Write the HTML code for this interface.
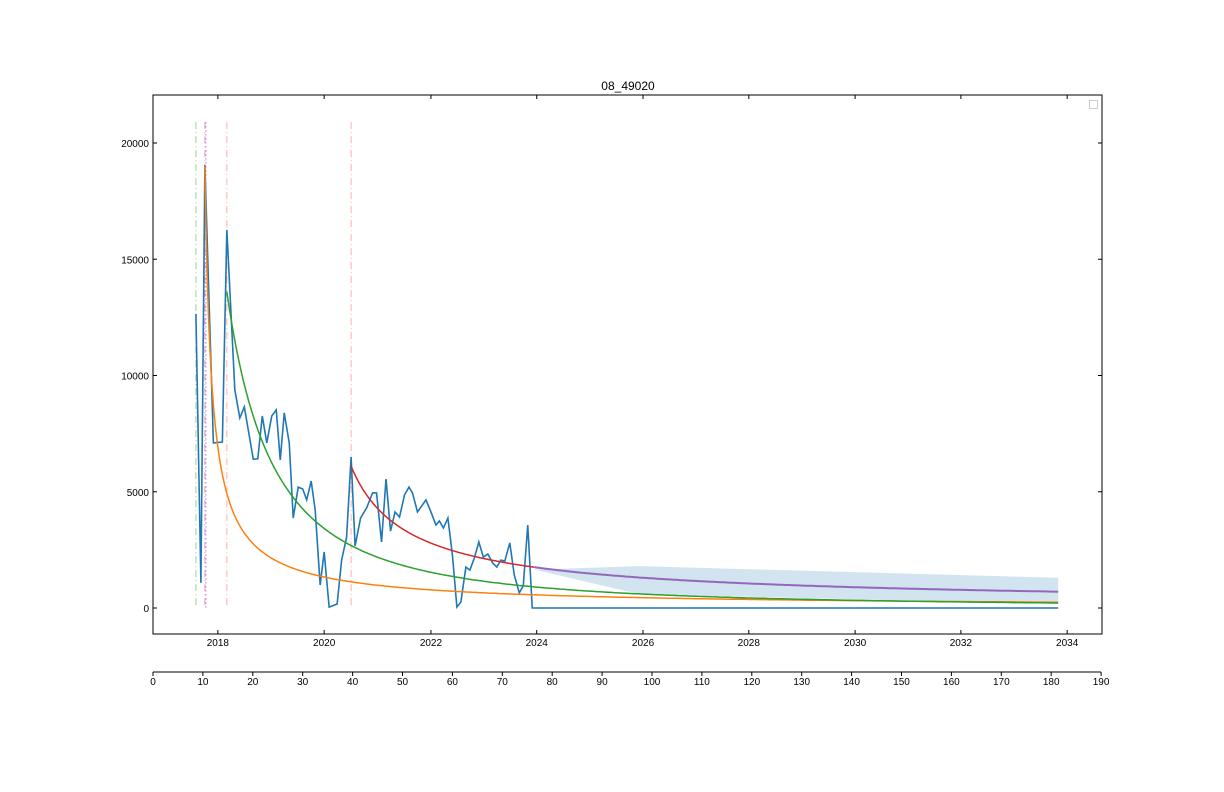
<!DOCTYPE html>
<html><head><meta charset="utf-8"><style>
body{margin:0;background:#fff;}
svg{display:block;font-family:"Liberation Sans",sans-serif;}
</style></head><body>
<svg id="chart" width="1224" height="792" viewBox="0 0 1224 792"></svg>
<script>
const blueT=[8.6,9.6,10.4,12.1,13.9,14.8,16.4,17.4,18.3,20.1,21.0,21.9,22.8,23.8,24.7,25.5,26.3,27.3,28.1,29.1,30.0,30.8,31.7,32.5,33.5,34.3,35.3,36.9,37.8,38.8,39.7,40.5,41.6,42.8,44.0,44.8,45.8,46.7,47.6,48.5,49.4,50.4,51.3,52.0,53.0,54.7,55.7,56.7,57.4,58.2,59.1,60.0,60.9,61.7,62.7,63.5,64.4,65.3,66.2,67.1,68.1,68.9,69.7,70.5,71.5,72.4,73.4,74.2,75.1,76.0,181.4];
const blueV=[12650,1080,19050,7100,7140,16260,9380,8170,8650,6400,6420,8260,7100,8260,8520,6370,8390,7100,3870,5200,5120,4650,5460,4220,990,2410,40,170,2060,3050,6500,2670,3870,4300,4950,4950,2840,5550,3310,4130,3910,4860,5200,4950,4130,4650,4130,3570,3740,3440,3870,2280,40,260,1760,1630,2150,2840,2190,2320,1930,1760,2060,2020,2800,1420,650,950,3570,0,0];
// hyperbolic fits: [start, end, qi, k, b]
const orangeFit=[10.4,181.4,19000,0.846,1.15];
const greenFit=[14.8,181.4,13600,0.0661,0.6];
const redFit=[39.7,76.4,6100,0.1103,1.3];
const purpleFit=[76.4,181.4,6100,0.1103,1.3,39.7];
const bandT=[76.4,97.6,181.4];
const bandUpper=[1650,1800,1300];
const bandLower=[1650,590,170];
const vlines=[[8.6,'#7fc97f','7,3,1,3'],[10.4,'#e377c2','7,3,1,3'],[10.6,'#9467bd','1.5,2.5'],[14.8,'#ff9896','7,3,1,3'],[39.7,'#ff9896','7,3,1,3']];
const yTicks=[0,5000,10000,15000,20000];
const uTicks=[0,10,20,30,40,50,60,70,80,90,100,110,120,130,140,150,160,170,180,190];
const yearLabels=['2018','2020','2022','2024','2026','2028','2030','2032','2034'];
const yearU=[13.0,34.3,55.7,76.9,98.2,119.4,140.7,161.9,183.2];

const L=153,R=1102,T=95,B=634;
const sx=u=>153+u*4.99;
const sy=v=>608-v*0.02325;
const svg=document.getElementById('chart');
const NS='http://www.w3.org/2000/svg';
function mk(tag,attrs,parent){const e=document.createElementNS(NS,tag);for(const k in attrs)e.setAttribute(k,attrs[k]);(parent||svg).appendChild(e);return e;}
function fitPts(f){const [s,e,qi,k,b]=f;const t0=f[5]!==undefined?f[5]:s;const p=[];for(let i=0;i<=300;i++){const u=s+(e-s)*Math.pow(i/300,2);p.push(sx(u).toFixed(1)+','+sy(qi*Math.pow(1+k*(u-t0),-1/b)).toFixed(1));}return p.join(' ');}

let bp=[];bandT.forEach((t,i)=>bp.push(sx(t)+','+sy(bandUpper[i])));
for(let i=bandT.length-1;i>=0;i--)bp.push(sx(bandT[i])+','+sy(bandLower[i]));
const band=mk('polygon',{points:bp.join(' '),fill:'#1f77b4','fill-opacity':'0.2'});



vlines.forEach(v=>{const l=mk('line',{x1:sx(v[0]),x2:sx(v[0]),y1:sy(20900),y2:sy(0),stroke:v[1],'stroke-width':1,'stroke-dasharray':v[2],opacity:0.8});

});

const bl=mk('polyline',{points:blueT.map((t,i)=>sx(t)+','+sy(blueV[i])).join(' '),fill:'none',stroke:'#1f77b4','stroke-width':1.6});


[[orangeFit,'#ff7f0e','orange-fit-curve'],[greenFit,'#2ca02c','green-fit-curve'],[redFit,'#d62728','red-fit-curve'],[purpleFit,'#9467bd','forecast-curve']].forEach(c=>{
const p=mk('polyline',{points:fitPts(c[0]),fill:'none',stroke:c[1],'stroke-width':c[2]==='forecast-curve'?2:1.5});

});

const fr=mk('rect',{x:L,y:T,width:R-L,height:B-T,fill:'none',stroke:'#000','stroke-width':1});


yTicks.forEach(v=>{const y=sy(v);mk('line',{x1:L,x2:L+4,y1:y,y2:y,stroke:'#000'});mk('line',{x1:R-4,x2:R,y1:y,y2:y,stroke:'#000'});
const t=mk('text',{x:L-4,y:y+4,'text-anchor':'end','font-size':10});t.textContent=v;

});
yearLabels.forEach((s,i)=>{const x=sx(yearU[i]);mk('line',{x1:x,x2:x,y1:B,y2:B-4,stroke:'#000'});mk('line',{x1:x,x2:x,y1:T,y2:T+4,stroke:'#000'});
const t=mk('text',{x:x,y:B+12,'text-anchor':'middle','font-size':10});t.textContent=s;

});
const ax2=mk('line',{x1:L,x2:R-1,y1:672,y2:672,stroke:'#000'});


uTicks.forEach(u=>{const x=sx(u);mk('line',{x1:x,x2:x,y1:672,y2:676,stroke:'#000'});
const t=mk('text',{x:x,y:685,'text-anchor':'middle','font-size':10});t.textContent=u;

});
const ti=mk('text',{x:628,y:90,'text-anchor':'middle','font-size':12});ti.textContent='08_49020';


const lg=mk('rect',{x:1089.5,y:100.5,width:8,height:8,fill:'#fff',stroke:'#ccc'});


</script>
</body></html>
